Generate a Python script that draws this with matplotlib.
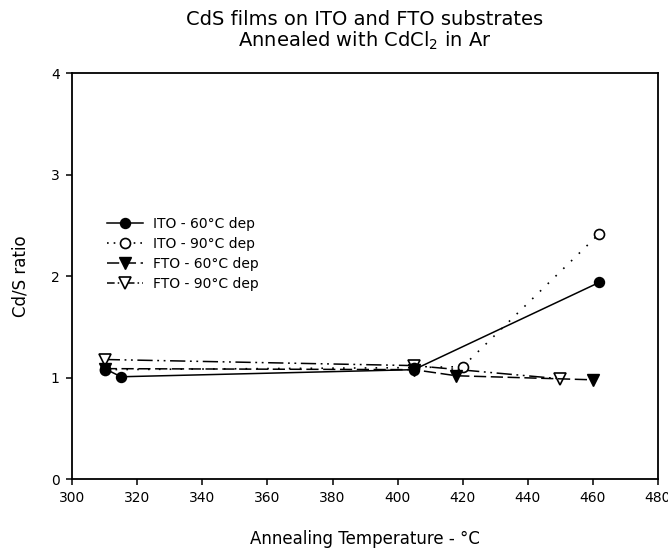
import matplotlib
matplotlib.use("Agg")
import matplotlib.pyplot as plt
from matplotlib.lines import Line2D

plt.rcParams["font.family"] = ["DejaVu Sans"]
plt.rcParams["mathtext.fontset"] = "dejavusans"
plt.rcParams["mathtext.default"] = "regular"

# Cd/S ratio versus annealing temperature
ito60_t = [310, 315, 405, 462]
ito60_r = [1.09, 1.01, 1.08, 1.94]

ito90_t = [310, 405, 420, 462]
ito90_r = [1.08, 1.10, 1.11, 2.42]

fto60_t = [310, 405, 418, 460]
fto60_r = [1.09, 1.08, 1.02, 0.98]

fto90_t = [310, 405, 450]
fto90_r = [1.18, 1.12, 0.99]

labels = ["ITO - 60°C dep", "ITO - 90°C dep", "FTO - 60°C dep", "FTO - 90°C dep"]
x_ticks = [300, 320, 340, 360, 380, 400, 420, 440, 460, 480]
y_ticks = [0, 1, 2, 3, 4]

fig = plt.figure(figsize=(6.68, 5.5), dpi=100)
ax = fig.add_axes([0.108, 0.1285, 0.877, 0.7385])

ms_c = 7.2
ms_t = 8.0
dot = (0, (1, 5.5))
dash = (0, (8, 3))
dashdotdot = (0, (10, 3, 1.2, 3, 1.2, 3))

ax.plot(ito60_t, ito60_r, color="black", lw=1.1, ls="-",
        marker="o", ms=ms_c, mfc="black", mec="black", zorder=4)
ax.plot(ito90_t, ito90_r, color="black", lw=1.2, ls=dot,
        marker="o", ms=ms_c, mfc="white", mec="black", mew=1.2, zorder=3)
ax.plot(fto60_t, fto60_r, color="black", lw=1.1, ls=dash,
        marker="v", ms=ms_t, mfc="black", mec="black", zorder=3)
ax.plot(fto90_t, fto90_r, color="black", lw=1.1, ls=dashdotdot,
        marker="v", ms=ms_t, mfc="white", mec="black", mew=1.2, zorder=2)

ax.set_xlim(300, 480)
ax.set_ylim(0, 4)
ax.set_xticks(x_ticks)
ax.set_yticks(y_ticks)
ax.tick_params(axis="x", direction="out", length=4, width=1.1, labelsize=10, pad=4.5)
ax.tick_params(axis="y", direction="out", length=4, width=1.1, labelsize=10, pad=5)
for s in ax.spines.values():
    s.set_linewidth(1.3)

ax.set_xlabel("Annealing Temperature - °C", fontsize=12)
ax.xaxis.set_label_coords(0.5, -0.125)
ax.set_ylabel("Cd/S ratio", fontsize=12)
ax.yaxis.set_label_coords(-0.072, 0.5)

fig.text(0.546, 0.9545, "CdS films on ITO and FTO substrates",
         ha="center", va="baseline", fontsize=14)
fig.text(0.546, 0.915, r"Annealed with CdCl$_2$ in Ar",
         ha="center", va="baseline", fontsize=14)

handles = [
    Line2D([], [], color="black", lw=1.1, ls="-", marker="o", ms=ms_c,
           mfc="black", mec="black"),
    Line2D([], [], color="black", lw=1.2, ls=(0, (1, 3)), marker="o", ms=ms_c,
           mfc="white", mec="black", mew=1.2),
    Line2D([], [], color="black", lw=1.1, ls=dash, marker="v", ms=ms_t,
           mfc="black", mec="black"),
    Line2D([], [], color="black", lw=1.1, ls=(0, (5, 2, 1, 2, 1, 2)), marker="v",
           ms=ms_t, mfc="white", mec="black", mew=1.2),
]
ax.legend(handles, labels, loc="upper left", bbox_to_anchor=(0.06, 0.645),
          frameon=False, fontsize=10, handlelength=2.6, handletextpad=0.72,
          labelspacing=0.42, borderaxespad=0, borderpad=0)

fig.savefig("out.png", dpi=100)
